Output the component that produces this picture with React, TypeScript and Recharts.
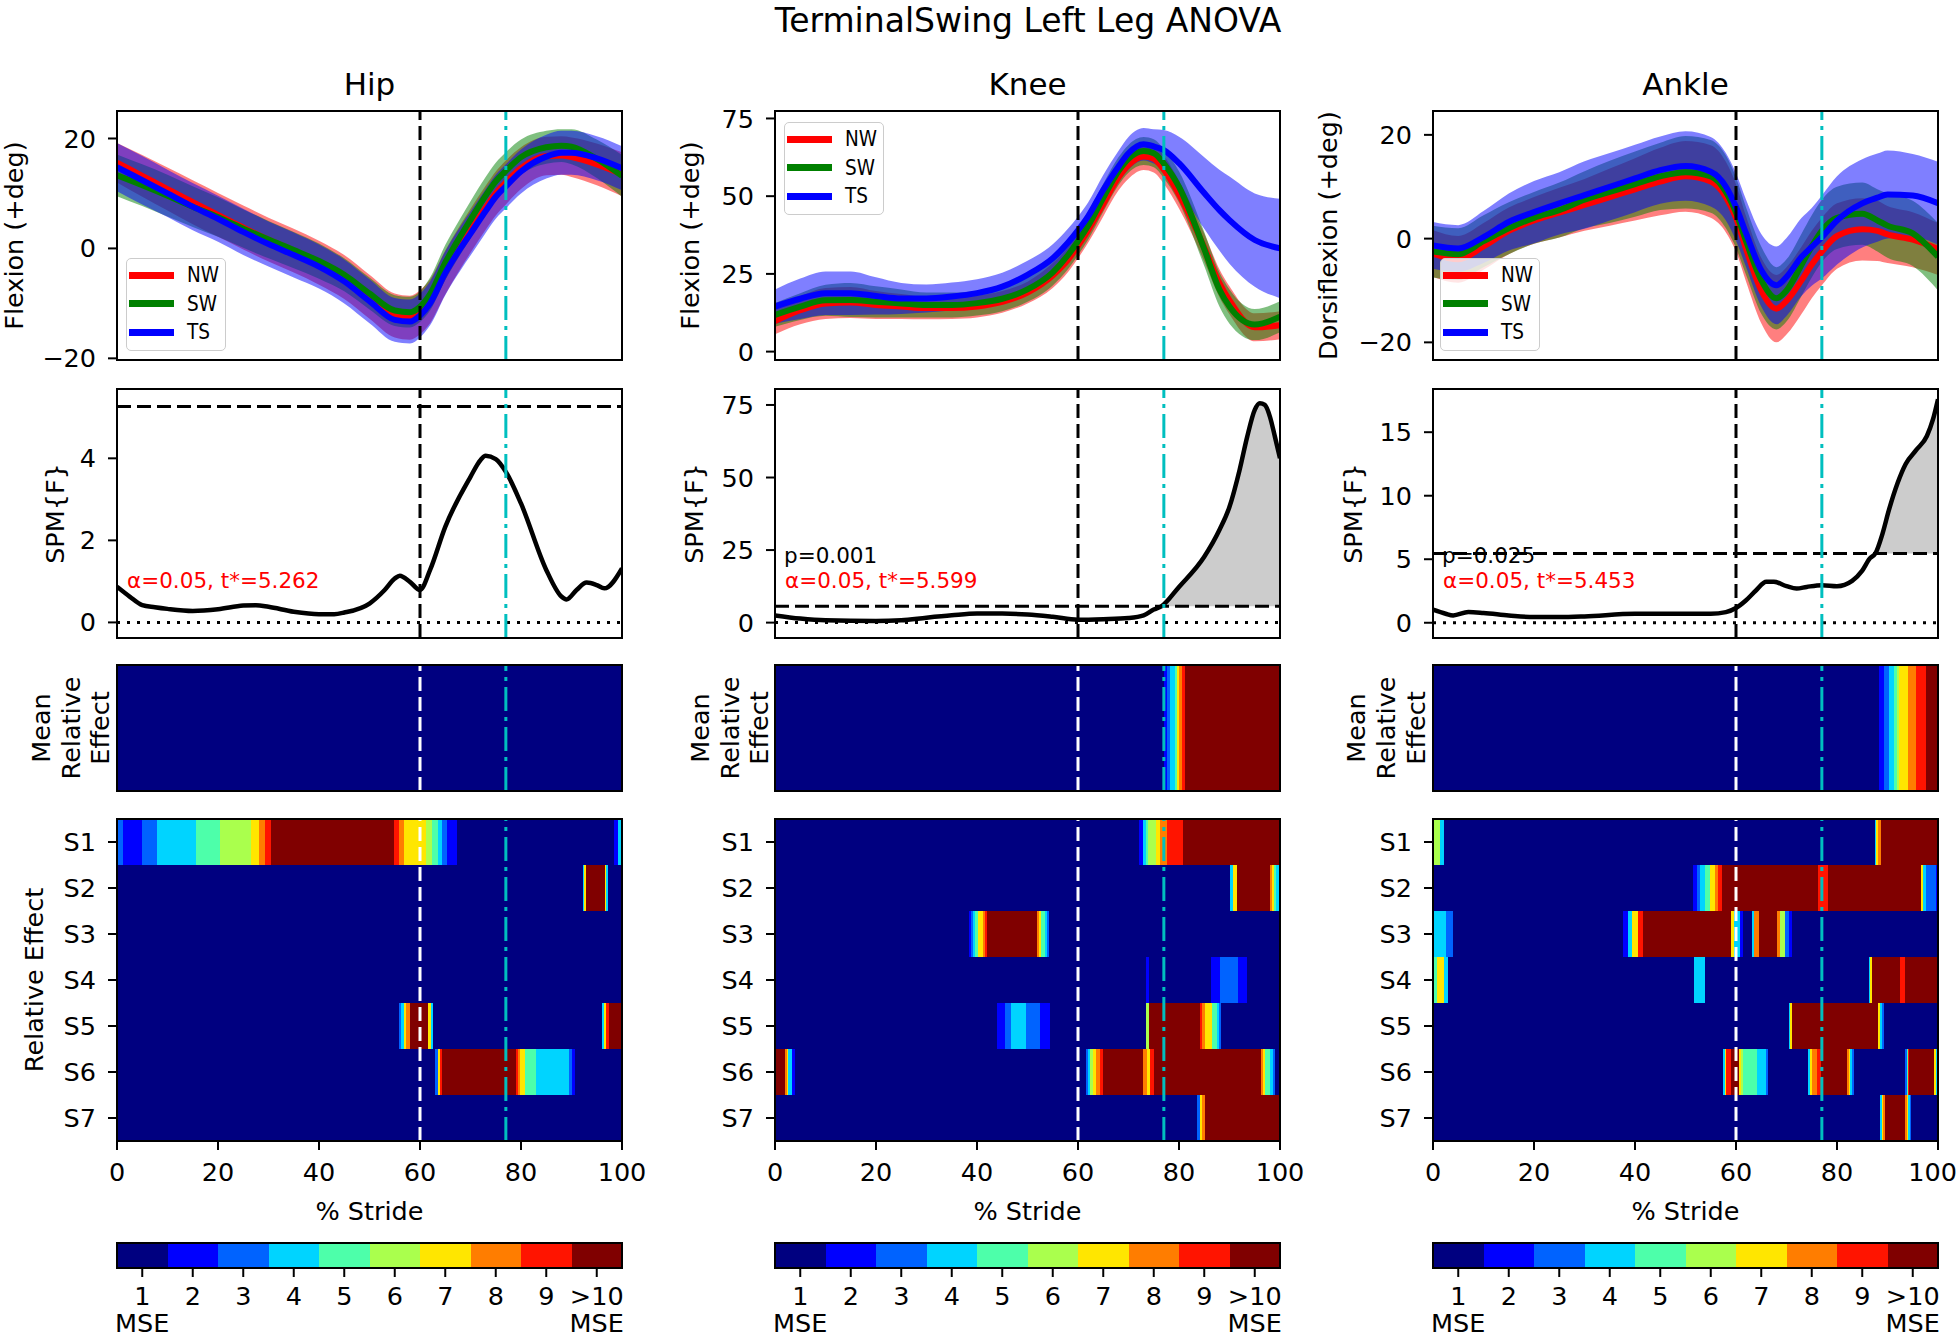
import React from 'react';
import {
  ComposedChart,
  BarChart,
  Bar,
  Line,
  Area,
  XAxis,
  YAxis,
  ReferenceLine,
  Cell,
  Legend,
} from 'recharts';

const FONT = "'DejaVu Sans', sans-serif";
const COND = "'DejaVu Sans Condensed', 'DejaVu Sans', sans-serif";

// ---------------- data ----------------
const X_PCT = [0, 5, 10, 15, 20, 25, 30, 35, 40, 45, 50, 55, 58, 60, 62, 65, 68, 70, 73, 75, 77, 80, 85, 88, 90, 95, 100];

const HIP_NW = [15.6, 13.2, 10.8, 8.4, 6.1, 3.8, 1.6, -0.4, -2.6, -5.2, -8.8, -12.2, -12.6, -11.6, -9.6, -4.4, 0.3, 3.2, 7.4, 10.0, 12.0, 14.6, 16.8, 16.9, 16.6, 15.3, 13.5];
const HIP_NW_SD = [3.6, 3.8, 3.9, 4.0, 4.0, 4.0, 4.0, 4.0, 4.0, 4.0, 4.0, 4.0, 4.0, 4.0, 4.0, 4.0, 4.0, 4.0, 4.0, 4.0, 4.0, 3.8, 3.5, 3.5, 3.6, 3.8, 4.0];
const HIP_SW = [13.3, 11.5, 9.6, 7.6, 5.7, 3.6, 1.6, -0.3, -2.3, -4.8, -8.2, -11.3, -11.6, -10.6, -8.3, -2.6, 2.2, 5.2, 9.6, 12.2, 14.1, 16.6, 18.4, 18.7, 18.5, 16.3, 13.2];
const HIP_SW_SD = [3.8, 3.8, 3.8, 3.7, 3.6, 3.5, 3.4, 3.3, 3.2, 3.0, 2.9, 2.8, 2.8, 2.8, 3.0, 3.2, 3.3, 3.4, 3.4, 3.4, 3.4, 3.2, 3.0, 3.0, 3.2, 3.5, 3.8];
const HIP_TS = [14.8, 12.4, 10.0, 7.6, 5.4, 3.0, 0.8, -1.2, -3.3, -6.0, -9.6, -13.0, -13.3, -12.2, -10.0, -4.5, 0.0, 2.7, 6.8, 9.4, 11.3, 14.0, 16.7, 17.4, 17.4, 16.4, 14.6];
const HIP_TS_SD = [4.4, 4.4, 4.3, 4.3, 4.2, 4.2, 4.1, 4.1, 4.0, 4.0, 4.0, 4.0, 4.0, 4.0, 4.0, 4.0, 4.0, 4.0, 4.0, 4.0, 4.0, 4.0, 4.0, 4.0, 4.0, 4.0, 4.0];

const KNEE_NW = [9.8, 13.3, 15.5, 15.8, 15.0, 14.5, 14.0, 14.0, 14.5, 16.0, 19.0, 24.5, 29.5, 34.0, 39.0, 47.5, 56.0, 60.0, 62.8, 62.0, 58.5, 50.5, 33.5, 22.0, 16.5, 7.8, 8.5];
const KNEE_NW_SD = [4.2, 4.5, 5.0, 5.0, 4.5, 4.0, 3.6, 3.5, 3.5, 3.5, 3.5, 4.0, 4.0, 4.0, 4.0, 4.0, 4.2, 4.4, 4.4, 4.4, 4.5, 4.5, 4.5, 4.5, 4.5, 4.5, 4.5];
const KNEE_SW = [11.8, 14.5, 16.5, 16.6, 16.0, 15.5, 15.0, 15.0, 15.6, 17.0, 20.0, 25.5, 31.0, 35.5, 40.5, 49.5, 58.0, 62.0, 64.5, 63.8, 60.5, 53.0, 33.0, 20.0, 14.5, 8.7, 11.2];
const KNEE_SW_SD = [3.8, 4.3, 5.0, 5.5, 5.0, 4.5, 4.0, 4.0, 4.0, 4.0, 4.0, 4.2, 4.5, 4.5, 4.5, 4.5, 4.5, 4.5, 4.5, 4.5, 4.7, 5.0, 5.5, 5.5, 5.5, 5.0, 5.0];
const KNEE_TS = [14.5, 17.0, 18.8, 18.8, 17.9, 17.1, 17.1, 17.7, 18.8, 20.9, 24.7, 30.0, 35.0, 39.0, 43.5, 52.0, 59.5, 63.8, 66.7, 66.0, 64.8, 60.6, 51.0, 45.5, 42.3, 35.9, 33.2];
const KNEE_TS_SD = [5.5, 6.5, 7.0, 7.0, 6.0, 5.0, 4.5, 4.5, 4.5, 4.5, 4.5, 4.5, 4.5, 4.5, 4.5, 4.8, 5.0, 5.2, 5.2, 5.5, 6.5, 8.5, 11.5, 13.0, 14.0, 15.0, 16.0];

const ANKLE_NW = [-2.9, -4.0, -1.5, 1.5, 3.5, 5.0, 6.5, 8.0, 9.5, 11.0, 12.0, 11.0, 8.0, 4.0, -2.0, -10.0, -13.5, -12.0, -8.0, -5.0, -2.5, 0.5, 1.8, 1.5, 0.8, -0.2, -2.0];
const ANKLE_NW_SD = [4.5, 4.5, 4.5, 4.5, 4.5, 4.8, 5.0, 5.5, 6.0, 6.5, 6.8, 7.0, 6.8, 6.5, 6.3, 6.3, 6.5, 6.5, 6.5, 6.5, 6.5, 6.3, 6.0, 5.8, 5.5, 5.3, 5.0];
const ANKLE_SW = [-2.5, -3.0, -0.5, 2.0, 4.0, 5.5, 7.5, 9.0, 10.5, 12.0, 12.8, 12.0, 9.0, 5.0, -0.5, -8.0, -11.5, -10.0, -5.0, -1.5, 1.5, 4.0, 4.8, 3.5, 2.5, 1.0, -3.5];
const ANKLE_SW_SD = [5.0, 5.0, 5.0, 5.0, 5.0, 5.3, 5.5, 6.0, 6.3, 6.5, 7.0, 7.0, 7.0, 6.8, 6.5, 6.5, 6.0, 6.0, 6.0, 6.0, 6.0, 6.0, 6.0, 6.0, 6.2, 6.3, 6.5];
const ANKLE_TS = [-1.3, -1.9, 0.3, 3.2, 5.1, 6.8, 8.4, 10.0, 11.6, 13.2, 14.0, 12.9, 10.0, 6.1, 1.0, -6.1, -9.0, -7.4, -3.5, -1.6, 0.3, 3.5, 6.8, 7.9, 8.5, 8.3, 6.8];
const ANKLE_TS_SD = [4.5, 4.5, 5.0, 5.5, 6.0, 6.0, 6.5, 6.5, 6.5, 6.5, 6.7, 6.7, 6.5, 6.5, 6.5, 7.0, 7.5, 7.5, 7.5, 7.5, 8.0, 8.5, 8.5, 8.5, 8.5, 8.0, 8.0];

const HIP_SPM_X = [0, 2.5, 5, 7.5, 10, 15, 20, 25, 27.5, 30, 35, 40, 43, 45, 50, 53, 55, 56, 58, 60, 62, 65, 70, 72, 73, 75, 77, 80, 85, 88, 89, 91, 93, 95, 96.5, 100];
const HIP_SPM_F = [0.87, 0.63, 0.42, 0.37, 0.33, 0.28, 0.32, 0.41, 0.42, 0.38, 0.26, 0.2, 0.2, 0.24, 0.46, 0.79, 1.07, 1.14, 0.99, 0.79, 1.28, 2.33, 3.55, 3.96, 4.06, 3.98, 3.67, 2.9, 1.28, 0.63, 0.56, 0.79, 0.97, 0.91, 0.83, 1.32];
const KNEE_SPM_X = [0, 5, 10, 20, 25, 30, 35, 40, 45, 50, 55, 60, 65, 70, 73, 75, 76.5, 80, 85, 88, 90, 92, 93.5, 95, 96, 97, 98, 99, 100];
const KNEE_SPM_F = [2.5, 1.4, 0.8, 0.6, 0.8, 1.7, 2.5, 3.1, 3.1, 2.8, 2.0, 1.0, 1.2, 1.6, 2.5, 4.5, 5.599, 12.3, 22.7, 31.9, 39.9, 52.6, 64, 73.3, 75.6, 75, 71, 64, 56.6];
const ANKLE_SPM_X = [0, 2.5, 4, 7, 10, 15, 20, 25, 30, 40, 50, 55, 58, 60, 62, 64, 66, 67.5, 70, 72, 74, 77, 80, 83, 85, 86.5, 87.6, 89, 90.3, 92, 93.6, 95.7, 97.8, 99, 100];
const ANKLE_SPM_F = [1.03, 0.71, 0.58, 0.84, 0.77, 0.58, 0.45, 0.45, 0.5, 0.71, 0.71, 0.71, 0.84, 1.16, 1.77, 2.56, 3.22, 3.22, 2.88, 2.69, 2.82, 2.96, 2.88, 3.3, 4.1, 5.07, 5.453, 7.0, 8.9, 11, 12.5, 13.6, 14.7, 16, 17.6];

const THRESH = [5.262, 5.599, 5.453];
const P_TEXT = ['', 'p=0.001', 'p=0.025'];

// relative-effect segments: [start %, end %, MSE level]; gaps are level 1
const HIP_MEAN: number[][] = [];
const HIP_S1 = [[0, 1.2, 3], [1.2, 4.9, 2], [4.9, 8, 3], [8, 15.7, 4], [15.7, 20.4, 5], [20.4, 26.6, 6], [26.6, 28.1, 7], [28.1, 29.3, 8], [29.3, 30.5, 9], [30.5, 54.9, 10], [54.9, 55.9, 9], [55.9, 56.8, 8], [56.8, 61.1, 7], [61.1, 62.4, 6], [62.4, 63.5, 5], [63.5, 64.3, 4], [64.3, 65.4, 3], [65.4, 67.3, 2], [98.5, 99.2, 2], [99.2, 100, 4]];
const HIP_S2 = [[92.2, 92.5, 4], [92.5, 92.8, 7], [92.8, 96.6, 10], [96.6, 96.9, 7], [96.9, 97.3, 4]];
const HIP_S3: number[][] = [];
const HIP_S4: number[][] = [];
const HIP_S5 = [[55.9, 56.3, 3], [56.3, 56.8, 4], [56.8, 57.3, 7], [57.3, 58, 8], [58, 61.6, 10], [61.6, 62.1, 7], [62.1, 62.6, 4], [96.1, 96.4, 4], [96.4, 96.8, 7], [96.8, 97.5, 9], [97.5, 100, 10]];
const HIP_S6 = [[63, 63.5, 3], [63.5, 64, 7], [64, 64.3, 9], [64.3, 79, 10], [79, 79.4, 9], [79.4, 79.8, 8], [79.8, 80.7, 7], [80.7, 82.9, 5], [82.9, 89.6, 4], [89.6, 90.1, 3], [90.1, 90.6, 2]];
const HIP_S7: number[][] = [];

const KNEE_MEAN = [[77, 77.7, 2], [77.7, 78.3, 3], [78.3, 79.2, 4], [79.2, 79.6, 5], [79.6, 80, 7], [80, 80.5, 8], [80.5, 81.1, 9], [81.1, 100, 10]];
const KNEE_S1 = [[72, 72.9, 2], [72.9, 73.4, 4], [73.4, 73.9, 5], [73.9, 75.4, 6], [75.4, 76.3, 7], [76.3, 77.6, 8], [77.6, 80.8, 9], [80.8, 100, 10]];
const KNEE_S2 = [[90, 90.6, 4], [90.6, 91.4, 7], [91.4, 98, 10], [98, 98.5, 8], [98.5, 98.8, 7], [98.8, 99.3, 5], [99.3, 99.8, 4]];
const KNEE_S3 = [[38.5, 38.9, 2], [38.9, 39.3, 3], [39.3, 39.7, 4], [39.7, 40.1, 5], [40.1, 41.1, 7], [41.1, 41.5, 8], [41.5, 42, 9], [42, 51.9, 10], [51.9, 52.3, 8], [52.3, 52.7, 7], [52.7, 53.4, 5], [53.4, 53.8, 4], [53.8, 54.2, 3]];
const KNEE_S4 = [[73.5, 74.1, 2], [86.3, 88.2, 2], [88.2, 91.6, 3], [91.6, 93.5, 2]];
const KNEE_S5 = [[44, 45.6, 2], [45.6, 46.8, 3], [46.8, 49.8, 4], [49.8, 52.5, 3], [52.5, 54.4, 2], [73.5, 74, 6], [74, 84.1, 10], [84.1, 84.6, 9], [84.6, 85.1, 8], [85.1, 86.5, 7], [86.5, 87.5, 5], [87.5, 88, 4], [88, 88.3, 3]];
const KNEE_S6 = [[0, 1.9, 10], [1.9, 2.3, 8], [2.3, 2.6, 7], [2.6, 3.3, 4], [3.3, 4, 2], [61.5, 61.9, 3], [61.9, 62.3, 4], [62.3, 63, 6], [63, 63.6, 7], [63.6, 64.3, 8], [64.3, 64.9, 9], [64.9, 72.9, 10], [72.9, 73.6, 8], [73.6, 74.3, 7], [74.3, 75, 9], [75, 96.2, 10], [96.2, 96.7, 8], [96.7, 97.1, 7], [97.1, 98.1, 5], [98.1, 98.6, 4], [98.6, 99.1, 3]];
const KNEE_S7 = [[83.6, 84.1, 3], [84.1, 84.6, 7], [84.6, 85.1, 8], [85.1, 100, 10]];

const ANKLE_MEAN = [[88.4, 89.4, 2], [89.4, 90.3, 3], [90.3, 91.3, 4], [91.3, 91.8, 5], [91.8, 92.3, 6], [92.3, 94, 7], [94, 95.7, 8], [95.7, 97.6, 9], [97.6, 100, 10]];
const ANKLE_S1 = [[0, 1.3, 6], [1.3, 2.2, 4], [87.5, 87.8, 4], [87.8, 88.1, 7], [88.1, 88.7, 8], [88.7, 100, 10]];
const ANKLE_S2 = [[51.5, 52.2, 2], [52.2, 52.9, 3], [52.9, 53.8, 4], [53.8, 54.8, 5], [54.8, 55.8, 7], [55.8, 56.5, 8], [56.5, 57.2, 9], [57.2, 76.3, 10], [76.3, 78.2, 9], [78.2, 96.6, 10], [96.6, 97.1, 7], [97.1, 97.6, 4], [97.6, 99.7, 3], [99.7, 100, 2]];
const ANKLE_S3 = [[0, 2.6, 4], [2.6, 4, 3], [37.7, 38.6, 2], [38.6, 39.5, 4], [39.5, 40.6, 7], [40.6, 41.6, 9], [41.6, 59, 10], [59, 59.7, 7], [59.7, 60.8, 4], [60.8, 61.4, 2], [63.1, 63.6, 4], [63.6, 64.5, 8], [64.5, 68.1, 10], [68.1, 68.8, 8], [68.8, 69.8, 6], [69.8, 70.4, 3], [70.4, 71, 2]];
const ANKLE_S4 = [[0, 0.7, 5], [0.7, 2.2, 7], [2.2, 2.9, 4], [51.7, 53.9, 4], [86.3, 86.6, 4], [86.6, 87, 7], [87, 92.5, 10], [92.5, 93.5, 9], [93.5, 100, 10]];
const ANKLE_S5 = [[70.4, 70.7, 4], [70.7, 71.1, 7], [71.1, 88.2, 10], [88.2, 88.6, 7], [88.6, 88.9, 4], [88.9, 89.4, 3]];
const ANKLE_S6 = [[57.5, 57.8, 4], [57.8, 58, 7], [58, 59.1, 9], [59.1, 60.6, 10], [60.6, 61, 7], [61, 61.4, 6], [61.4, 64.2, 5], [64.2, 65.9, 4], [65.9, 66.3, 3], [74.3, 74.7, 4], [74.7, 75.1, 7], [75.1, 76, 8], [76, 76.8, 9], [76.8, 81.9, 10], [81.9, 82.3, 8], [82.3, 82.6, 7], [82.6, 83, 4], [83, 83.4, 3], [93.5, 93.8, 3], [93.8, 94.1, 5], [94.1, 94.3, 9], [94.3, 99.3, 10], [99.3, 99.6, 7], [99.6, 100, 4]];
const ANKLE_S7 = [[88.6, 88.9, 4], [88.9, 89.1, 7], [89.1, 89.6, 8], [89.6, 93.5, 10], [93.5, 93.8, 8], [93.8, 94.1, 7], [94.1, 94.4, 4], [94.4, 94.7, 3]];

const ROW_NAMES = ['S1', 'S2', 'S3', 'S4', 'S5', 'S6', 'S7'];
const X_TICKS = [0, 20, 40, 60, 80, 100];
const CBAR_LABELS = ['1', '2', '3', '4', '5', '6', '7', '8', '9', '>10'];
const CBAR_TICKS = [0.5, 1.5, 2.5, 3.5, 4.5, 5.5, 6.5, 7.5, 8.5, 9.5];
const JET = ['#000080', '#0000ff', '#0063ff', '#00d4ff', '#4dffaa', '#aaff4d', '#ffe600', '#ff7d00', '#ff1400', '#800000'];

const SERIES = [
  { key: 'nw', name: 'NW', color: '#ff0000' },
  { key: 'sw', name: 'SW', color: '#008000' },
  { key: 'ts', name: 'TS', color: '#0000ff' },
];

const COL_NAMES = ['Hip', 'Knee', 'Ankle'];
const ANGLE_LABELS = ['Flexion (+deg)', 'Flexion (+deg)', 'Dorsiflexion (+deg)'];

// ---------------- layout ----------------
const W = 1959;
const H = 1340;
const COL_LEFT = [117, 775, 1433];
const PANEL_W = 505;
const TOP = { angle: 111, spm: 389, mean: 665, rel: 819, cbar: 1243 };
const HT = { angle: 249, spm: 249, mean: 126, rel: 322, cbar: 25 };
const PAD_L = 120;
const PAD_T = 12;
const PAD_R = 40;
const X_AXIS_H = 50;
const TICK_FS = 25.5;

const fmt = (v: number) => (v < 0 ? '\u2212' + Math.abs(v) : String(v));
const tickStyle = { fontSize: TICK_FS, fill: '#000', fontFamily: FONT };
const tickLineStyle = { stroke: '#000', strokeWidth: 2 };

const DASH = '14 6';
const DASHDOT = '24 6 4 6';
const CYAN = '#00bfbf';

const ANGLE_DATA = [
  { nw: HIP_NW, nwSd: HIP_NW_SD, sw: HIP_SW, swSd: HIP_SW_SD, ts: HIP_TS, tsSd: HIP_TS_SD, domain: [-20.3, 25], ticks: [-20, 0, 20], legendTop: 258 },
  { nw: KNEE_NW, nwSd: KNEE_NW_SD, sw: KNEE_SW, swSd: KNEE_SW_SD, ts: KNEE_TS, tsSd: KNEE_TS_SD, domain: [-2.7, 77.4], ticks: [0, 25, 50, 75], legendTop: 122 },
  { nw: ANKLE_NW, nwSd: ANKLE_NW_SD, sw: ANKLE_SW, swSd: ANKLE_SW_SD, ts: ANKLE_TS, tsSd: ANKLE_TS_SD, domain: [-23.4, 24.6], ticks: [-20, 0, 20], legendTop: 258 },
];

const SPM_DATA = [
  { xs: HIP_SPM_X, fs: HIP_SPM_F, domain: [-0.38, 5.69], ticks: [0, 2, 4] },
  { xs: KNEE_SPM_X, fs: KNEE_SPM_F, domain: [-5.3, 80.5], ticks: [0, 25, 50, 75] },
  { xs: ANKLE_SPM_X, fs: ANKLE_SPM_F, domain: [-1.2, 18.4], ticks: [0, 5, 10, 15] },
];

const MEAN_DATA = [HIP_MEAN, KNEE_MEAN, ANKLE_MEAN];
const REL_DATA = [
  [HIP_S1, HIP_S2, HIP_S3, HIP_S4, HIP_S5, HIP_S6, HIP_S7],
  [KNEE_S1, KNEE_S2, KNEE_S3, KNEE_S4, KNEE_S5, KNEE_S6, KNEE_S7],
  [ANKLE_S1, ANKLE_S2, ANKLE_S3, ANKLE_S4, ANKLE_S5, ANKLE_S6, ANKLE_S7],
];

// label positions (baseline x of rotated labels)
const ANGLE_LABEL_X = [23, 699, 1337];
const SPM_LABEL_X = [63.5, 702.5, 1361.5];
const MEAN_LABEL_X = [
  [50, 79.5, 109],
  [709, 738.5, 768],
  [1364.5, 1394.5, 1424.5],
];
const LEGEND_DX = [9, 9, 7];

function LegendBox() {
  return (
    <div
      style={{
        width: 100,
        height: 93,
        boxSizing: 'border-box',
        border: '1.5px solid #cccccc',
        borderRadius: 5,
        background: 'rgba(255,255,255,0.8)',
        position: 'relative',
      }}
    >
      {SERIES.map((s, i) => (
        <div
          key={s.key}
          style={{ position: 'absolute', left: 2, top: 2 + i * 28.5, height: 28, display: 'flex', alignItems: 'center' }}
        >
          <span style={{ display: 'inline-block', width: 45, height: 7, background: s.color }} />
          <span
            style={{
              marginLeft: 13,
              fontFamily: COND,
              fontStretch: 'condensed',
              fontSize: 20.5,
              lineHeight: '20px',
              color: '#000',
            }}
          >
            {s.name}
          </span>
        </div>
      ))}
    </div>
  );
}

function AngleChart({ col }: { col: number }) {
  const d = ANGLE_DATA[col];
  const rows = X_PCT.map((x, i) => ({
    x,
    nw: d.nw[i],
    sw: d.sw[i],
    ts: d.ts[i],
    nwBand: [d.nw[i] - d.nwSd[i], d.nw[i] + d.nwSd[i]],
    swBand: [d.sw[i] - d.swSd[i], d.sw[i] + d.swSd[i]],
    tsBand: [d.ts[i] - d.tsSd[i], d.ts[i] + d.tsSd[i]],
  }));
  const chartLeft = COL_LEFT[col] - PAD_L;
  const chartTop = TOP.angle - PAD_T;
  return (
    <div style={{ position: 'absolute', left: chartLeft, top: chartTop }}>
      <ComposedChart
        width={PAD_L + PANEL_W + PAD_R}
        height={PAD_T + HT.angle + PAD_T}
        data={rows}
        margin={{ top: PAD_T, right: PAD_R, bottom: PAD_T, left: 0 }}
      >
        <XAxis type="number" dataKey="x" domain={[0, 100]} hide allowDataOverflow />
        <YAxis
          type="number"
          domain={d.domain}
          ticks={d.ticks}
          interval={0}
          width={PAD_L}
          allowDataOverflow
          axisLine={false}
          tickLine={tickLineStyle}
          tickSize={9}
          tickMargin={12}
          tick={tickStyle}
          tickFormatter={fmt}
        />
        {SERIES.map((s) => (
          <Area
            key={s.key + 'b'}
            dataKey={s.key + 'Band'}
            type="monotone"
            fill={s.color}
            fillOpacity={0.5}
            stroke="none"
            isAnimationActive={false}
            activeDot={false}
          />
        ))}
        {SERIES.map((s) => (
          <Line
            key={s.key}
            dataKey={s.key}
            type="monotone"
            stroke={s.color}
            strokeWidth={6}
            dot={false}
            activeDot={false}
            isAnimationActive={false}
          />
        ))}
        <ReferenceLine x={60} stroke="#000" strokeWidth={3} strokeDasharray={DASH} />
        <ReferenceLine x={77} stroke={CYAN} strokeWidth={3} strokeDasharray={DASHDOT} />
        <Legend
          layout="vertical"
          align="center"
          verticalAlign="middle"
          content={() => <LegendBox />}
          wrapperStyle={{
            left: COL_LEFT[col] + LEGEND_DX[col] - chartLeft,
            top: d.legendTop - chartTop,
            width: 100,
            height: 93,
          }}
        />
      </ComposedChart>
    </div>
  );
}

function SpmChart({ col }: { col: number }) {
  const d = SPM_DATA[col];
  const t = THRESH[col];
  const above = d.fs.some((f) => f > t);
  const rows = d.xs.map((x, i) => ({ x, f: d.fs[i], sig: [t, Math.max(d.fs[i], t)] }));
  return (
    <div style={{ position: 'absolute', left: COL_LEFT[col] - PAD_L, top: TOP.spm - PAD_T }}>
      <ComposedChart
        width={PAD_L + PANEL_W + PAD_R}
        height={PAD_T + HT.spm + PAD_T}
        data={rows}
        margin={{ top: PAD_T, right: PAD_R, bottom: PAD_T, left: 0 }}
      >
        <XAxis type="number" dataKey="x" domain={[0, 100]} hide allowDataOverflow />
        <YAxis
          type="number"
          domain={d.domain}
          ticks={d.ticks}
          interval={0}
          width={PAD_L}
          allowDataOverflow
          axisLine={false}
          tickLine={tickLineStyle}
          tickSize={9}
          tickMargin={12}
          tick={tickStyle}
          tickFormatter={fmt}
        />
        {above && (
          <Area
            dataKey="sig"
            type="monotone"
            fill="#cccccc"
            fillOpacity={1}
            stroke="none"
            isAnimationActive={false}
            activeDot={false}
          />
        )}
        <ReferenceLine y={t} stroke="#000" strokeWidth={3} strokeDasharray={DASH} />
        <ReferenceLine y={0} stroke="#000" strokeWidth={3} strokeDasharray="3 7" />
        <Line
          dataKey="f"
          type="monotone"
          stroke="#000"
          strokeWidth={4.5}
          dot={false}
          activeDot={false}
          isAnimationActive={false}
        />
        <ReferenceLine x={60} stroke="#000" strokeWidth={3} strokeDasharray={DASH} />
        <ReferenceLine x={77} stroke={CYAN} strokeWidth={3} strokeDasharray={DASHDOT} />
      </ComposedChart>
    </div>
  );
}

function fillSegs(segs: number[][]) {
  const out: number[][] = [];
  let c = 0;
  for (const s of segs) {
    if (s[0] > c) out.push([c, s[0], 1]);
    out.push(s);
    c = s[1];
  }
  if (c < 100) out.push([c, 100, 1]);
  return out;
}

// x tick that keeps its text inside the page
const makeXTick = (chartLeft: number) => (props: any) => {
  const { x, y, payload } = props;
  const label = String(payload.value);
  const half = label.length * 0.318 * TICK_FS;
  const maxRight = W - 2 - chartLeft;
  const overflow = x + half > maxRight;
  return (
    <text
      x={overflow ? maxRight : x}
      y={y}
      textAnchor={overflow ? 'end' : 'middle'}
      fontSize={TICK_FS}
      fontFamily={FONT}
      fill="#000"
    >
      <tspan dy="0.71em">{label}</tspan>
    </text>
  );
};

function HeatChart({
  col,
  names,
  segRows,
  top,
  height,
  showY,
  showX,
}: {
  col: number;
  names: string[];
  segRows: number[][][];
  top: number;
  height: number;
  showY: boolean;
  showX: boolean;
}) {
  const filled = segRows.map((s) => fillSegs(s));
  const n = Math.max(...filled.map((r) => r.length));
  const data = filled.map((r, j) => {
    const o: any = { name: names[j] };
    for (let i = 0; i < n; i++) o['s' + i] = r[i] ? r[i][1] - r[i][0] : 0;
    return o;
  });
  const chartLeft = COL_LEFT[col] - PAD_L;
  const XTick = makeXTick(chartLeft);
  return (
    <div style={{ position: 'absolute', left: chartLeft, top: top - PAD_T }}>
      <BarChart
        layout="vertical"
        width={PAD_L + PANEL_W + PAD_R}
        height={PAD_T + height + (showX ? X_AXIS_H : PAD_T)}
        data={data}
        margin={{ top: PAD_T, right: PAD_R, bottom: showX ? 0 : PAD_T, left: 0 }}
        barCategoryGap={0}
        barGap={0}
      >
        <XAxis
          type="number"
          domain={[0, 100]}
          ticks={X_TICKS}
          interval={0}
          hide={!showX}
          height={X_AXIS_H}
          allowDataOverflow
          axisLine={false}
          tickLine={tickLineStyle}
          tickSize={9}
          tickMargin={13}
          tick={<XTick />}
        />
        <YAxis
          type="category"
          dataKey="name"
          width={PAD_L}
          axisLine={false}
          interval={0}
          tick={showY ? tickStyle : false}
          tickLine={showY ? tickLineStyle : false}
          tickSize={9}
          tickMargin={12}
        />
        {Array.from({ length: n }, (_, i) => (
          <Bar key={i} dataKey={'s' + i} stackId="h" isAnimationActive={false} shapeRendering="crispEdges">
            {filled.map((r, j) => (
              <Cell key={j} fill={JET[(r[i] ? r[i][2] : 1) - 1]} />
            ))}
          </Bar>
        ))}
        <ReferenceLine x={60} stroke="#ffffff" strokeWidth={3} strokeDasharray={DASH} />
        <ReferenceLine x={77} stroke={CYAN} strokeWidth={3} strokeDasharray={DASHDOT} />
      </BarChart>
    </div>
  );
}

const CbarTick = (props: any) => {
  const { x, y, payload } = props;
  const idx = Math.floor(payload.value);
  const edge = idx === 0 || idx === CBAR_LABELS.length - 1;
  return (
    <text x={x} y={y} textAnchor="middle" fontSize={TICK_FS} fontFamily={FONT} fill="#000">
      <tspan x={x} dy="0.71em">
        {CBAR_LABELS[idx]}
      </tspan>
      {edge && (
        <tspan x={x} dy={27}>
          MSE
        </tspan>
      )}
    </text>
  );
};

function ColorBar({ col }: { col: number }) {
  const row: any = { name: 'cb' };
  CBAR_LABELS.forEach((_, i) => {
    row['c' + i] = 1;
  });
  const axisH = H - (TOP.cbar + HT.cbar);
  return (
    <div style={{ position: 'absolute', left: COL_LEFT[col] - PAD_L, top: TOP.cbar - PAD_T }}>
      <BarChart
        layout="vertical"
        width={PAD_L + PANEL_W + PAD_R}
        height={PAD_T + HT.cbar + axisH}
        data={[row]}
        margin={{ top: PAD_T, right: PAD_R, bottom: 0, left: PAD_L }}
        barCategoryGap={0}
        barGap={0}
      >
        <XAxis
          type="number"
          domain={[0, 10]}
          ticks={CBAR_TICKS}
          height={axisH}
          interval={0}
          allowDataOverflow
          axisLine={false}
          tickLine={tickLineStyle}
          tickSize={9}
          tickMargin={10}
          tick={<CbarTick />}
        />
        <YAxis type="category" dataKey="name" hide />
        {CBAR_LABELS.map((l, i) => (
          <Bar key={l} dataKey={'c' + i} stackId="cb" fill={JET[i]} isAnimationActive={false} shapeRendering="crispEdges" />
        ))}
      </BarChart>
    </div>
  );
}

function Overlay() {
  const rot = (x: number, y: number) => `rotate(-90 ${x} ${y})`;
  const frames: { x: number; y: number; w: number; h: number }[] = [];
  COL_LEFT.forEach((l) => {
    (['angle', 'spm', 'mean', 'rel', 'cbar'] as const).forEach((k) => {
      frames.push({ x: l, y: TOP[k], w: PANEL_W, h: HT[k] });
    });
  });
  const yAngle = TOP.angle + HT.angle / 2;
  const ySpm = TOP.spm + HT.spm / 2;
  const yMean = TOP.mean + HT.mean / 2;
  const yRel = TOP.rel + HT.rel / 2;
  return (
    <svg
      width={W}
      height={H}
      style={{ position: 'absolute', left: 0, top: 0, pointerEvents: 'none' }}
      fontFamily={FONT}
    >
      <text x={1028} y={32} fontSize={33} textAnchor="middle" fill="#000">
        TerminalSwing Left Leg ANOVA
      </text>
      {COL_NAMES.map((name, c) => {
        const cx = COL_LEFT[c] + PANEL_W / 2;
        return (
          <g key={name}>
            <text x={cx} y={95} fontSize={31} textAnchor="middle" fill="#000">
              {name}
            </text>
            <text x={ANGLE_LABEL_X[c]} y={yAngle} fontSize={TICK_FS} textAnchor="middle" transform={rot(ANGLE_LABEL_X[c], yAngle)} fill="#000">
              {ANGLE_LABELS[c]}
            </text>
            <text x={SPM_LABEL_X[c]} y={ySpm} fontSize={TICK_FS} textAnchor="middle" transform={rot(SPM_LABEL_X[c], ySpm)} fill="#000">
              {'SPM{F}'}
            </text>
            {['Mean', 'Relative', 'Effect'].map((w, i) => (
              <text
                key={w}
                x={MEAN_LABEL_X[c][i]}
                y={yMean}
                fontSize={TICK_FS}
                textAnchor="middle"
                transform={rot(MEAN_LABEL_X[c][i], yMean)}
                fill="#000"
              >
                {w}
              </text>
            ))}
            {P_TEXT[c] && (
              <text x={COL_LEFT[c] + 9} y={563} fontSize={21.5} fill="#000">
                {P_TEXT[c]}
              </text>
            )}
            <text x={COL_LEFT[c] + 10} y={588} fontSize={21.5} fill="#ff0000">
              {`\u03b1=0.05, t*=${THRESH[c].toFixed(3)}`}
            </text>
            <text x={cx} y={1220} fontSize={TICK_FS} textAnchor="middle" fill="#000">
              % Stride
            </text>
          </g>
        );
      })}
      <text x={43} y={yRel} fontSize={TICK_FS} textAnchor="middle" transform={rot(43, yRel)} fill="#000">
        Relative Effect
      </text>
      {frames.map((f, i) => (
        <rect key={i} x={f.x} y={f.y} width={f.w} height={f.h} fill="none" stroke="#000" strokeWidth={2} />
      ))}
    </svg>
  );
}

export default function App() {
  return (
    <div
      style={{
        position: 'absolute',
        left: 0,
        top: 0,
        width: W,
        height: H,
        overflow: 'hidden',
        background: '#fff',
        fontFamily: FONT,
      }}
    >
      {[0, 1, 2].map((c) => (
        <React.Fragment key={c}>
          <AngleChart col={c} />
          <SpmChart col={c} />
          <HeatChart col={c} names={['']} segRows={[MEAN_DATA[c]]} top={TOP.mean} height={HT.mean} showY={false} showX={false} />
          <HeatChart col={c} names={ROW_NAMES} segRows={REL_DATA[c]} top={TOP.rel} height={HT.rel} showY={true} showX={true} />
          <ColorBar col={c} />
        </React.Fragment>
      ))}
      <Overlay />
    </div>
  );
}
